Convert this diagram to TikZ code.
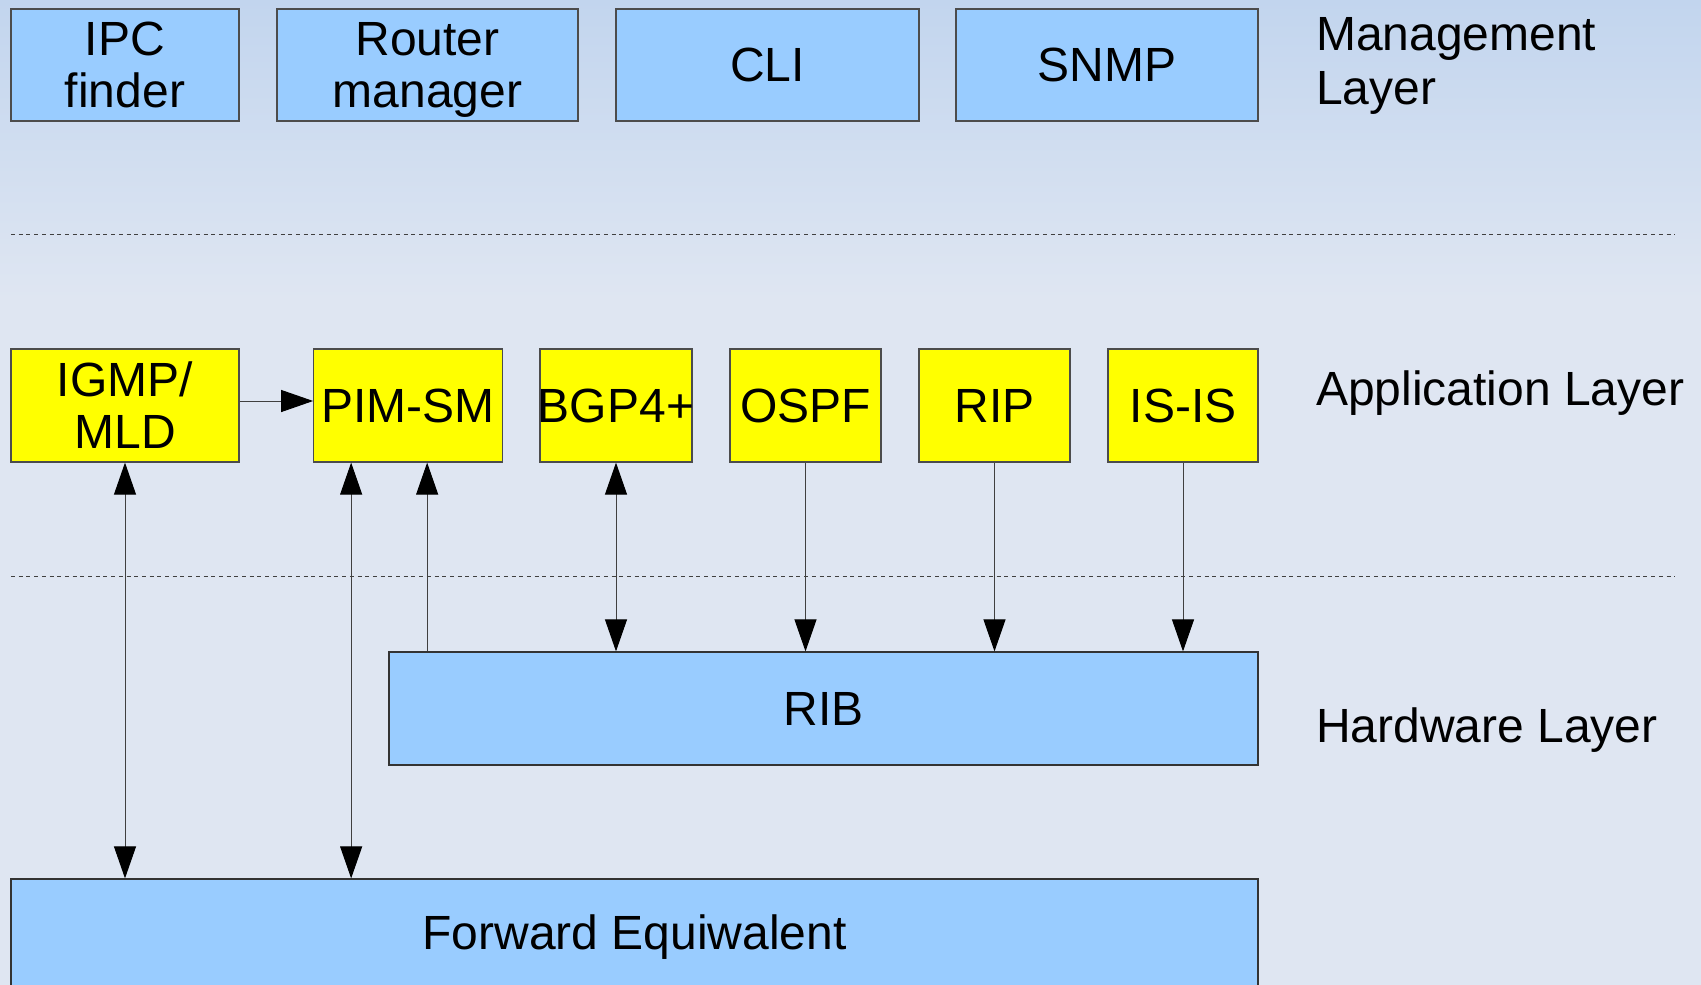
\documentclass[tikz,border=0pt]{standalone}
\usepackage{fontspec}
\setmainfont{Liberation Sans}
\usetikzlibrary{positioning, arrows.meta}
\usepackage{xcolor}
\definecolor{bgtop}{HTML}{C2D5EE}
\definecolor{bgbot}{HTML}{DFE6F2}
\definecolor{boxblue}{HTML}{99CCFF}
\definecolor{boxyellow}{HTML}{FFFF00}

\begin{document}
\begin{tikzpicture}[x=1pt, y=-1pt,
        every node/.style={font=\fontsize{48}{52}\selectfont, inner sep=0pt},
        mgmt/.style={rectangle, draw=black!70, line width=1.2pt, fill=boxblue, minimum height=112pt, align=center},
        app/.style={rectangle, draw=black!70, line width=1.2pt, fill=boxyellow, minimum height=113pt, align=center},
        hw/.style={rectangle, draw=black!80, line width=1.2pt, fill=boxblue, minimum height=113pt, align=center},
        layer/.style={anchor=west, align=left, font=\fontsize{48}{54}\selectfont},
        sep/.style={draw=black!75, line width=1pt, dash pattern=on 4pt off 3.7pt},
        link/.style={draw=black!75, line width=1pt, -{Triangle[length=32pt, width=22pt, color=black]}},
        dlink/.style={draw=black!75, line width=1pt, {Triangle[length=32pt, width=22pt, color=black]}-{Triangle[length=32pt, width=22pt, color=black]}}
    ]
        \useasboundingbox (0,0) rectangle (1701,985);
        % Background
        \shade[top color=bgtop, bottom color=bgbot] (0,0) rectangle (1701,300);
        \fill[bgbot] (0,299) rectangle (1701,985);

        % Management layer
        \node[mgmt, minimum width=228pt] (ipc) at (125,65) {IPC\\finder};
        \node[mgmt, minimum width=301pt, text depth=0pt] (router) at (427.5,65) {Router\\manager};
        \node[mgmt, minimum width=303pt] (cli) at (767.5,65) {CLI};
        \node[mgmt, minimum width=302pt] (snmp) at (1107,65) {SNMP};
        \node[layer] (mgmtlabel) at (1316,65.5) {Management\\Layer};

        % Layer separators
        \coordinate (sepa) at (11,234);
        \coordinate (sepb) at (11,576);
        \draw[sep] (sepa) -- ++(1664,0);
        \draw[sep] (sepb) -- ++(1664,0);

        % Application layer
        \node[app, minimum width=228pt] (igmp) at (125,405.5) {IGMP/\\MLD};
        \node[app, minimum width=188.5pt] (pim) at (408,405.5) {PIM-SM};
        \node[app, minimum width=152pt] (bgp) at (616,405.5) {\makebox[146pt]{BGP4+}};
        \node[app, minimum width=151pt] (ospf) at (805.5,405.5) {OSPF};
        \node[app, minimum width=151pt] (rip) at (994.5,405.5) {RIP};
        \node[app, minimum width=150pt] (isis) at (1183,405.5) {IS-IS};
        \node[layer] (applabel) at (1316,393) {Application Layer};

        % Hardware layer
        \node[hw, minimum width=869pt] (rib) at (823.5,708.5) {RIB};
        \node[layer] (hwlabel) at (1316,730) {Hardware Layer};
        \node[hw, minimum width=1247pt, minimum height=116pt] (fwd) at (634.5,937) {Forward Equiwalent};

        % Arrows
        \coordinate (pimfwd) at ([xshift=38pt]pim.south west);
        \coordinate (pimrib) at ([xshift=114pt]pim.south west);
        \draw[link] ([yshift=4.5pt]igmp.east) -- ([yshift=4.5pt]pim.west);
        \draw[dlink] (igmp.south) -- (igmp.south |- fwd.north);
        \draw[dlink] (pimfwd) -- (pimfwd |- fwd.north);
        \draw[link] (pimrib |- rib.north) -- (pimrib);
        \draw[dlink] (bgp.south) -- (bgp.south |- rib.north);
        \draw[link] (ospf.south) -- (ospf.south |- rib.north);
        \draw[link] (rip.south) -- (rip.south |- rib.north);
        \draw[link] (isis.south) -- (isis.south |- rib.north);
\end{tikzpicture}
\end{document}
